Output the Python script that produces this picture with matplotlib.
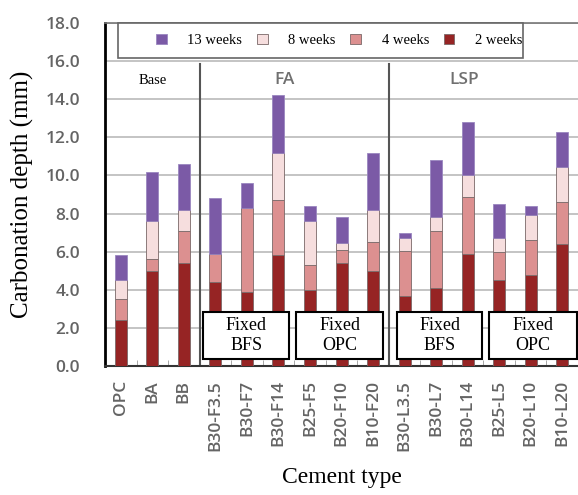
import numpy as np
import matplotlib
matplotlib.use("Agg")
import matplotlib.pyplot as plt
from matplotlib.patches import Rectangle

# carbonation depth (mm) measured at each age, per cement type
cements = ["OPC", "BA", "BB",
           "B30-F3.5", "B30-F7", "B30-F14", "B25-F5", "B20-F10", "B10-F20",
           "B30-L3.5", "B30-L7", "B30-L14", "B25-L5", "B20-L10", "B10-L20"]
depth_2w = [2.4, 5.0, 5.4, 4.4, 3.9, 5.8, 4.0, 5.4, 5.0, 3.7, 4.1, 5.9, 4.5, 4.75, 6.4]
depth_4w = [3.5, 5.6, 7.1, 5.9, 8.3, 8.7, 5.3, 6.1, 6.5, 6.05, 7.1, 8.85, 6.0, 6.6, 8.6]
depth_8w = [4.5, 7.6, 8.2, 5.9, 8.3, 11.2, 7.6, 6.45, 8.2, 6.7, 7.8, 10.0, 6.7, 7.95, 10.45]
depth_13w = [5.8, 10.2, 10.6, 8.8, 9.6, 14.2, 8.4, 7.8, 11.2, 7.0, 10.8, 12.8, 8.5, 8.4, 12.3]

groups = ["Base", "FA", "LSP"]
group_label_x = [1.0, 5.2, 10.9]
group_breaks = [2.5, 8.5]

note_labels = ["Fixed\nBFS", "Fixed\nOPC", "Fixed\nBFS", "Fixed\nOPC"]
note_spans = [(2.61, 5.34), (5.56, 8.32), (8.76, 11.46), (11.68, 14.47)]

serif = "Liberation Serif"
sans = "Open Sans"

fig = plt.figure(figsize=(5.78, 4.95), dpi=100)
ax = fig.add_axes([0.1817, 0.2606, 0.8183, 0.6929])

x = np.arange(len(cements))
d2 = np.array(depth_2w)
d4 = np.array(depth_4w)
d8 = np.array(depth_8w)
d13 = np.array(depth_13w)

w = 0.38
ec = "#7a6868"
ax.bar(x, d2, w, color="#962424", edgecolor=ec, linewidth=0.6, label="2 weeks", zorder=3)
ax.bar(x, d4 - d2, w, bottom=d2, color="#dc9090", edgecolor=ec, linewidth=0.6, label="4 weeks", zorder=3)
ax.bar(x, d8 - d4, w, bottom=d4, color="#f6dede", edgecolor=ec, linewidth=0.6, label="8 weeks", zorder=3)
ax.bar(x, d13 - d8, w, bottom=d8, color="#7b5aa6", edgecolor="#9a86bf", linewidth=0.6, label="13 weeks", zorder=3)

ax.set_xlim(-0.5, len(cements) - 0.5)
ax.set_ylim(0, 18)
ax.set_yticks(np.arange(0, 18.1, 2))
ax.set_yticklabels([f"{v:.1f}" for v in np.arange(0, 18.1, 2)])
ax.set_xticks(x)
ax.set_xticklabels(cements, rotation=90)
ax.set_xticks(np.arange(0.5, len(cements) - 0.5), minor=True)
ax.tick_params(axis="x", which="major", length=0, pad=10)
ax.tick_params(axis="x", which="minor", direction="in", length=4, color="#999999")
ax.tick_params(axis="y", length=0, pad=18)
for lab in ax.get_xticklabels() + ax.get_yticklabels():
    lab.set_fontfamily(sans)
    lab.set_fontsize(12.5)
    lab.set_fontweight("semibold")
    lab.set_color("#646464")

ax.grid(axis="y", color="#c4c4c4", linewidth=1.4, zorder=0)
ax.set_axisbelow(True)

ax.spines["left"].set_linewidth(2.0)
ax.spines["left"].set_color("black")
ax.spines["bottom"].set_linewidth(1.5)
ax.spines["bottom"].set_color("#333333")
ax.spines["top"].set_color("#777777")
ax.spines["top"].set_linewidth(1.2)
ax.spines["right"].set_visible(False)

# group separators and headers
for b in group_breaks:
    ax.plot([b, b], [0, 15.85], color="#555555", linewidth=1.5, zorder=2)
ax.text(group_label_x[0], 15.0, groups[0], ha="center", va="center",
        fontfamily=serif, fontsize=10.5, color="black")
for gx, g in zip(group_label_x[1:], groups[1:]):
    ax.text(gx, 15.0, g, ha="center", va="center", fontfamily=sans,
            fontsize=12.5, fontweight="semibold", color="#707070")

# mix-design notes
for (x0, x1), note in zip(note_spans, note_labels):
    ax.add_patch(Rectangle((x0, 0.37), x1 - x0, 2.47, facecolor="white",
                           edgecolor="black", linewidth=1.5, zorder=5))
    ax.text((x0 + x1) / 2, 0.37 + 2.47 / 2, note, ha="center", va="center",
            fontfamily=serif, fontsize=13, linespacing=1.2, zorder=6)

# legend inside a framed strip along the top
ax.add_patch(Rectangle((0.0275, 0.898), 0.857, 0.102, transform=ax.transAxes,
                       facecolor="white", edgecolor="#666666", linewidth=1.2,
                       zorder=6, clip_on=False))
handles, labels = ax.get_legend_handles_labels()
leg = ax.legend(handles[::-1], labels[::-1], ncol=4, loc="center left",
                bbox_to_anchor=(0.108, 0.949), frameon=False,
                prop={"family": serif, "size": 10.5}, handlelength=0.75,
                handleheight=0.75, handletextpad=1.4, columnspacing=1.0,
                borderpad=0, borderaxespad=0)
leg.set_zorder(7)

ax.set_ylabel("Carbonation depth (mm)", fontfamily=serif, fontsize=18, labelpad=8)
ax.set_xlabel("Cement type", fontfamily=serif, fontsize=17, labelpad=12)

fig.savefig("out.png", dpi=100)
